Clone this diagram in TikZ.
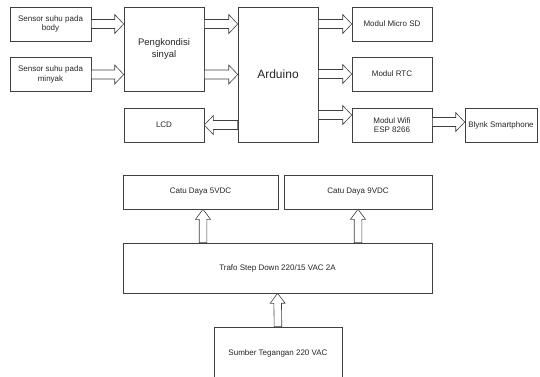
\documentclass[tikz,border=0pt]{standalone}
\usepackage{fontspec}
\setmainfont{Liberation Sans}
\usetikzlibrary{calc}

\tikzset{
  block/.style={draw=black!75, line width=0.6pt, fill=white, text=black!85,
    font=\fontsize{8}{9.5}\selectfont, align=center, inner sep=0pt},
  arrowline/.style={draw=black!75, line width=0.6pt, fill=white},
}

% hollow block arrow from #1 to #2
\def\shaft{4.5pt}
\def\head{9.5pt}
\def\tiplen{9pt}
\newcommand{\fatarrow}[2]{%
  \coordinate (fa-s) at (#1);
  \coordinate (fa-e) at (#2);
  \coordinate (fa-h) at ($(fa-e)!\tiplen!(fa-s)$);
  \draw[arrowline] ($(fa-s)!\shaft!-90:(fa-e)$) -- ($(fa-h)!\shaft!90:(fa-s)$)
    -- ($(fa-h)!\head!90:(fa-s)$) -- (fa-e) -- ($(fa-h)!\head!-90:(fa-s)$)
    -- ($(fa-h)!\shaft!-90:(fa-s)$) -- ($(fa-s)!\shaft!90:(fa-e)$) -- cycle;
}

\begin{document}
\begin{tikzpicture}[x=1pt, y=-1pt]
  \useasboundingbox (0,0) rectangle (540,376);

  % upper part
  \node[block, minimum width=81pt, minimum height=34pt] (body) at (50.5,24) {Sensor suhu pada\\body};
  \node[block, minimum width=81pt, minimum height=34pt] (minyak) at (50.5,74.5) {Sensor suhu pada\\minyak};
  \node[block, minimum width=80pt, minimum height=84pt, font=\fontsize{9.5}{11.5}\selectfont] (peng) at (164,49) {Pengkondisi\\sinyal};
  \node[block, minimum width=80pt, minimum height=34pt] (lcd) at (164,125) {LCD};
  \node[block, minimum width=80pt, minimum height=135pt, font=\fontsize{12}{14}\selectfont] (ard) at (278,74.5) {Arduino};
  \node[block, minimum width=80pt, minimum height=34pt] (sd) at (392,24) {Modul Micro SD};
  \node[block, minimum width=80pt, minimum height=34pt] (rtc) at (392,74) {Modul RTC};
  \node[block, minimum width=80pt, minimum height=34pt] (wifi) at (392,125) {Modul Wifi\\ESP 8266};
  \node[block, minimum width=72pt, minimum height=34pt] (blynk) at (501,125) {Blynk Smartphone};

  \coordinate (wifi-in) at ([yshift=10pt]wifi.west);
  \coordinate (blynk-in) at ([yshift=3pt]blynk.west);

  \fatarrow{body.east}{peng.west |- body.east}
  \fatarrow{minyak.east}{peng.west |- minyak.east}
  \fatarrow{peng.east |- body.east}{ard.west |- body.east}
  \fatarrow{peng.east |- minyak.east}{ard.west |- minyak.east}
  \fatarrow{ard.west |- lcd.east}{lcd.east}
  \fatarrow{ard.east |- sd.west}{sd.west}
  \fatarrow{ard.east |- rtc.west}{rtc.west}
  \fatarrow{ard.east |- wifi-in}{wifi-in}
  \fatarrow{wifi.east |- blynk-in}{blynk-in}

  % power supply
  \node[block, minimum width=155pt, minimum height=34pt] (c5) at (200.5,192) {Catu Daya 5VDC};
  \node[block, minimum width=148pt, minimum height=34pt] (c9) at (358,192) {Catu Daya 9VDC};
  \node[block, minimum width=309pt, minimum height=50pt] (trafo) at (277.5,268) {Trafo Step Down 220/15 VAC 2A};
  \node[block, minimum width=128pt, minimum height=52pt] (sumber) at (278,353) {Sumber Tegangan 220 VAC};

  \coordinate (c5-in) at ([xshift=2.5pt]c5.south);

  \begin{scope}
    \def\shaft{3.8pt}
    \def\head{7.5pt}
    \def\tiplen{10pt}
    \fatarrow{trafo.north -| c5-in}{c5-in}
    \fatarrow{trafo.north -| c9.south}{c9.south}
    \fatarrow{sumber.north}{trafo.south}
  \end{scope}
\end{tikzpicture}
\end{document}
